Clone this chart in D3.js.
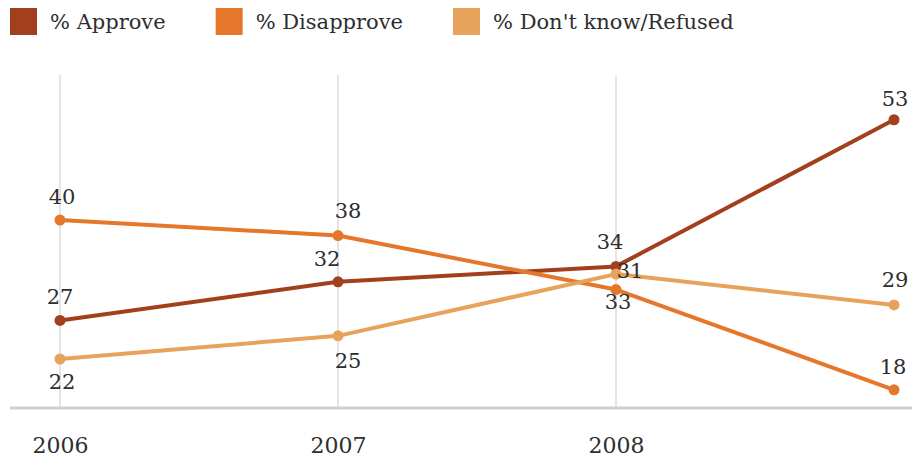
<!DOCTYPE html>
<html>
<head>
<meta charset="utf-8">
<script src="https://cdn.jsdelivr.net/npm/d3@7"></script>
<style>
  html, body { margin: 0; padding: 0; background: #fff; }
  svg { display: block; font-family: "DejaVu Serif", "Liberation Serif", serif; }
</style>
</head>
<body>
<svg id="chart" width="912" height="459"></svg>
<script>
// Survey years and the share of responses for each answer
const years = [2006, 2007, 2008, 2009];
const tickYears = [2006, 2007, 2008];
const seriesNames = ["% Approve", "% Disapprove", "% Don't know/Refused"];
const approve = [27, 32, 34, 53];
const disapprove = [40, 38, 31, 18];
const dontKnow = [22, 25, 33, 29];
const seriesColors = ["#a23f1d", "#e5772a", "#e7a35b"];

// Label nudges (dx, dy from each point) so labels clear the lines
const approveLabelNudge = [[0, -24], [-11, -24], [-6, -25], [1, -22]];
const disapproveLabelNudge = [[2, -24], [10, -26], [14, -20], [-1, -24]];
const dontKnowLabelNudge = [[2, 22], [10, 24], [2, 27], [1, -26]];

const series = [
  { name: seriesNames[0], values: approve, color: seriesColors[0], nudge: approveLabelNudge },
  { name: seriesNames[1], values: disapprove, color: seriesColors[1], nudge: disapproveLabelNudge },
  { name: seriesNames[2], values: dontKnow, color: seriesColors[2], nudge: dontKnowLabelNudge }
];

const FONT = "DejaVu Serif, serif";
const svg = d3.select("#chart");
const baseY = 408, topY = 75;

const x = d3.scaleLinear().domain([2006, 2009]).range([60, 894]);
const y = d3.scaleLinear().domain([15.65, 58.8]).range([baseY, topY]);

// Vertical gridlines at labelled years
svg.append("g")
  .selectAll("line")
  .data(tickYears)
  .join("line")
  .attr("x1", d => x(d)).attr("x2", d => x(d))
  .attr("y1", topY).attr("y2", baseY)
  .attr("stroke", "#dcdcdc")
  .attr("stroke-width", 1.5);

// Baseline
svg.append("line")
  .attr("x1", 10).attr("x2", 912)
  .attr("y1", baseY).attr("y2", baseY)
  .attr("stroke", "#cfcfcf")
  .attr("stroke-width", 3);

// X axis tick labels
const xAxis = d3.axisBottom(x).tickValues(tickYears).tickFormat(d3.format("d")).tickSize(0).tickPadding(0);
const gx = svg.append("g").attr("transform", `translate(0,${baseY})`).call(xAxis);
gx.select(".domain").remove();
gx.selectAll("text")
  .attr("y", 45)
  .attr("dy", 0)
  .attr("font-family", FONT)
  .attr("font-size", 22)
  .attr("fill", "#2e2e2e");

// Lines, points and value labels
const line = d3.line()
  .x((d, i) => x(years[i]))
  .y(d => y(d));

const g = svg.append("g");
series.forEach(s => {
  g.append("path")
    .datum(s.values)
    .attr("d", line)
    .attr("fill", "none")
    .attr("stroke", s.color)
    .attr("stroke-width", 4)
    .attr("stroke-linejoin", "round");
});
series.forEach(s => {
  g.append("g")
    .selectAll("circle")
    .data(s.values)
    .join("circle")
    .attr("cx", (d, i) => x(years[i]))
    .attr("cy", d => y(d))
    .attr("r", 5.5)
    .attr("fill", s.color);
});
series.forEach(s => {
  g.append("g")
    .selectAll("text")
    .data(s.values)
    .join("text")
    .attr("x", (d, i) => x(years[i]) + s.nudge[i][0])
    .attr("y", (d, i) => y(d) + s.nudge[i][1] + 8)
    .attr("text-anchor", "middle")
    .attr("font-family", FONT)
    .attr("font-size", 21)
    .attr("fill", "#2e2e2e")
    .text(d => d);
});

// Legend
const legend = svg.append("g");
let lx = 10;
series.forEach(s => {
  const item = legend.append("g").attr("transform", `translate(${lx},0)`);
  item.append("rect")
    .attr("x", 0).attr("y", 8)
    .attr("width", 27).attr("height", 27)
    .attr("fill", s.color);
  const t = item.append("text")
    .attr("x", 40).attr("y", 29)
    .attr("font-family", FONT)
    .attr("font-size", 21)
    .attr("fill", "#2e2e2e")
    .text(s.name);
  lx += 40 + t.node().getComputedTextLength() + 50;
});
</script>
</body>
</html>
